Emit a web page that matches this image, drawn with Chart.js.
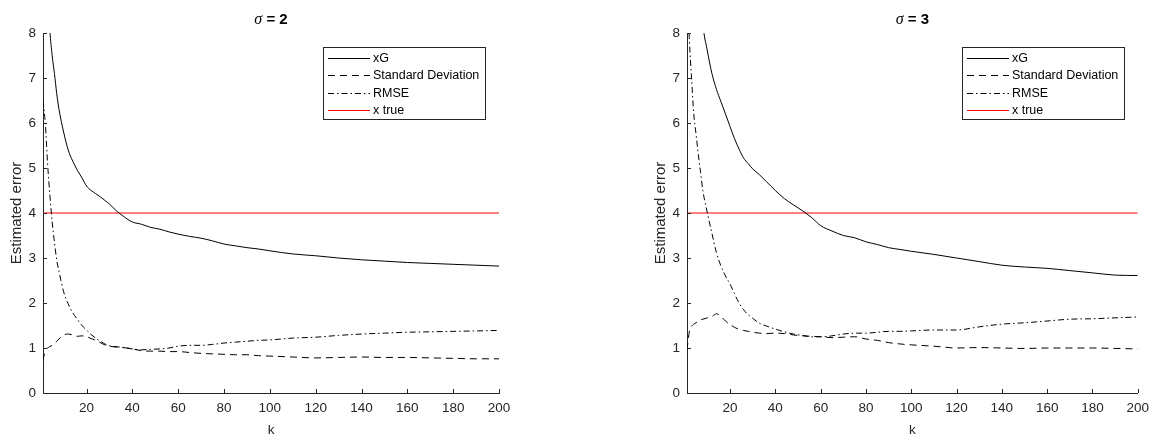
<!DOCTYPE html>
<html>
<head>
<meta charset="utf-8">
<script src="https://cdn.jsdelivr.net/npm/chart.js@4"></script>
<style>
  html, body { margin: 0; padding: 0; background: #fff; }
  #wrap { position: relative; width: 1156px; height: 434px; overflow: hidden; }
  canvas { position: absolute; top: 0; }
</style>
</head>
<body>
<div id="wrap">
  <canvas id="left" width="578" height="434" style="left:0"></canvas>
  <canvas id="right" width="578" height="434" style="left:578px"></canvas>
</div>
<script>
// iteration count k (same sample points for every series)
const k = [1, 2, 3, 4, 5, 6, 7, 8, 10, 12, 14, 16, 18, 20, 22, 24, 26, 28, 30, 33, 36, 40, 44, 48, 52, 56,
  60, 65, 70, 75, 80, 85, 90, 95, 100, 110, 120, 130, 140, 150, 160, 170, 180, 190, 200];

// sigma = 2
const xgS2 = [13.0, 10.6, 9.0, 8.05, 7.5, 7.1, 6.65, 6.3, 5.8, 5.4, 5.15, 4.95, 4.78, 4.6, 4.5, 4.43, 4.36, 4.28, 4.2, 4.05, 3.93, 3.8, 3.75, 3.68, 3.64, 3.58,
  3.53, 3.48, 3.44, 3.38, 3.31, 3.27, 3.23, 3.2, 3.16, 3.09, 3.05, 3.0, 2.96, 2.93, 2.9, 2.88, 2.86, 2.84, 2.82];
const sdS2 = [0.72, 0.95, 1.0, 1.03, 1.06, 1.1, 1.15, 1.2, 1.29, 1.31, 1.29, 1.26, 1.27, 1.25, 1.21, 1.17, 1.12, 1.07, 1.04, 1.02, 1.01, 0.98, 0.94, 0.93, 0.93, 0.92,
  0.92, 0.9, 0.88, 0.87, 0.86, 0.85, 0.85, 0.83, 0.82, 0.8, 0.78, 0.79, 0.8, 0.79, 0.79, 0.78, 0.77, 0.76, 0.76];
const rmseS2 = [6.5, 6.0, 5.1, 4.4, 3.8, 3.35, 2.95, 2.7, 2.25, 1.98, 1.78, 1.64, 1.5, 1.4, 1.3, 1.22, 1.15, 1.09, 1.05, 1.03, 1.01, 0.98, 0.96, 0.97, 0.98, 1.0,
  1.04, 1.06, 1.06, 1.08, 1.11, 1.13, 1.15, 1.17, 1.18, 1.22, 1.24, 1.28, 1.31, 1.33, 1.35, 1.36, 1.37, 1.38, 1.39];

// sigma = 3
const xgS3 = [24, 18, 14.5, 12.3, 10.8, 9.7, 8.9, 8.2, 7.6, 7.1, 6.75, 6.47, 6.2, 5.92, 5.65, 5.42, 5.22, 5.1, 4.98, 4.85, 4.7, 4.5, 4.32, 4.18, 4.05, 3.9,
  3.72, 3.6, 3.5, 3.45, 3.36, 3.3, 3.23, 3.19, 3.15, 3.08, 3.0, 2.92, 2.84, 2.8, 2.77, 2.72, 2.67, 2.62, 2.61];
const sdS3 = [0.96, 1.35, 1.48, 1.53, 1.56, 1.6, 1.63, 1.64, 1.67, 1.7, 1.76, 1.7, 1.6, 1.52, 1.46, 1.41, 1.39, 1.37, 1.35, 1.33, 1.32, 1.33, 1.32, 1.29, 1.27, 1.26,
  1.25, 1.23, 1.24, 1.25, 1.2, 1.17, 1.12, 1.09, 1.07, 1.04, 1.0, 1.01, 1.0, 0.99, 1.0, 1.0, 1.0, 0.99, 0.98];
const rmseS3 = [9.2, 7.9, 7.0, 6.2, 5.75, 5.3, 4.9, 4.5, 4.0, 3.55, 3.12, 2.82, 2.6, 2.42, 2.2, 2.0, 1.85, 1.74, 1.66, 1.55, 1.49, 1.42, 1.36, 1.31, 1.28, 1.25,
  1.25, 1.27, 1.31, 1.33, 1.33, 1.35, 1.37, 1.37, 1.38, 1.4, 1.4, 1.47, 1.53, 1.56, 1.6, 1.64, 1.65, 1.67, 1.69];

// true value line
const kEnds = [1, 200];
const xTrue = [4, 4];

const kTicks = [20, 40, 60, 80, 100, 120, 140, 160, 180, 200];
const yTicks = [0, 1, 2, 3, 4, 5, 6, 7, 8];
const seriesNames = ['xG', 'Standard Deviation', 'RMSE', 'x true'];

const FONT = '"Liberation Sans", Arial, Helvetica, sans-serif';
const SERIF = '"Liberation Serif", "Times New Roman", serif';
const AXIS = '#262626';
const RED = '#ff0000';

function pts(xs, ys) {
  return xs.map((x, i) => ({ x: x, y: ys[i] }));
}

// MATLAB-like extras: bold title with italic sigma, inward ticks, boxed legend
const matlabLook = {
  id: 'matlabLook',
  afterDraw(chart, args, opts) {
    const ctx = chart.ctx;
    const a = chart.chartArea;
    const xs = chart.scales.x, ys = chart.scales.y;
    ctx.save();

    // inward tick marks
    ctx.strokeStyle = AXIS;
    ctx.lineWidth = 1;
    ctx.beginPath();
    kTicks.forEach(v => {
      const px = Math.round(xs.getPixelForValue(v)) + 0.5;
      ctx.moveTo(px, a.bottom);
      ctx.lineTo(px, a.bottom - 4);
    });
    yTicks.forEach(v => {
      const py = Math.round(ys.getPixelForValue(v)) + 0.5;
      ctx.moveTo(a.left, py);
      ctx.lineTo(a.left + 4, py);
    });
    ctx.stroke();

    // title
    const cx = (a.left + a.right) / 2;
    ctx.fillStyle = '#000';
    ctx.textBaseline = 'middle';
    ctx.textAlign = 'left';
    const sig = '\u03C3';
    const rest = ' = ' + opts.sigma;
    ctx.font = 'italic 16px ' + SERIF;
    const w1 = ctx.measureText(sig).width;
    ctx.font = 'bold 15px ' + FONT;
    const w2 = ctx.measureText(rest).width;
    const x0 = cx - (w1 + w2) / 2;
    ctx.font = 'italic 16px ' + SERIF;
    ctx.fillText(sig, x0, 20);
    ctx.font = 'bold 15px ' + FONT;
    ctx.fillText(rest, x0 + w1, 20);

    // legend
    const bw = 162, bh = 72;
    const bx = Math.round(a.right - 14 - bw);
    const by = Math.round(a.top + 14);
    ctx.fillStyle = '#fff';
    ctx.fillRect(bx, by, bw, bh);
    ctx.strokeStyle = AXIS;
    ctx.lineWidth = 1;
    ctx.setLineDash([]);
    ctx.strokeRect(bx + 0.5, by + 0.5, bw, bh);
    ctx.font = '12.5px ' + FONT;
    ctx.textBaseline = 'middle';
    ctx.textAlign = 'left';
    opts.colors.forEach((color, i) => {
      const ds = chart.data.datasets[i];
      const ry = Math.round(by + 11 + i * 17.4);
      const dash = ds.borderDash || [];
      if (dash.length === 0) {
        ctx.fillStyle = color;
        ctx.fillRect(bx + 5, ry, 42, 1);
      } else {
        ctx.strokeStyle = color;
        ctx.setLineDash(dash);
        ctx.beginPath();
        ctx.moveTo(bx + 5, ry + 0.5);
        ctx.lineTo(bx + 47, ry + 0.5);
        ctx.stroke();
        ctx.setLineDash([]);
      }
      ctx.fillStyle = '#000';
      ctx.fillText(ds.label, bx + 50, ry + 0.5);
    });
    ctx.restore();
  }
};

function makeChart(id, sigma, xg, sd, rmse, padLeft, padRight) {
  const line = (label, data, color, dash) => ({
    label: label,
    data: data,
    borderColor: color,
    borderWidth: 1,
    borderDash: dash,
    pointRadius: 0,
    fill: false,
    cubicInterpolationMode: 'monotone'
  });

  return new Chart(document.getElementById(id).getContext('2d'), {
    type: 'line',
    data: {
      datasets: [
        line(seriesNames[0], pts(k, xg), '#000000', []),
        line(seriesNames[1], pts(k, sd), '#000000', [7, 5]),
        line(seriesNames[2], pts(k, rmse), '#000000', [6, 3, 1.5, 3]),
        line(seriesNames[3], pts(kEnds, xTrue), RED, [])
      ]
    },
    options: {
      responsive: false,
      animation: false,
      layout: { padding: { top: 33, left: padLeft, right: padRight, bottom: 0 } },
      plugins: {
        legend: { display: false },
        title: { display: false },
        tooltip: { enabled: false },
        matlabLook: { sigma: sigma, colors: ['#000000', '#000000', '#000000', RED] }
      },
      scales: {
        x: {
          type: 'linear',
          min: 1,
          max: 200,
          afterBuildTicks: s => { s.ticks = kTicks.map(v => ({ value: v })); },
          afterFit: s => { s.height = 41; },
          grid: { display: false, drawTicks: false },
          border: { display: true, color: AXIS, width: 1 },
          ticks: { color: AXIS, font: { family: FONT, size: 13.5 }, padding: 7, maxRotation: 0 },
          title: { display: true, text: 'k', color: AXIS, font: { family: FONT, size: 13.5, lineHeight: 0.6 }, padding: { top: 0, bottom: 0 } }
        },
        y: {
          min: 0,
          max: 8,
          afterBuildTicks: s => { s.ticks = yTicks.map(v => ({ value: v })); },
          afterFit: s => { s.width = 43; },
          grid: { display: false, drawTicks: false },
          border: { display: true, color: AXIS, width: 1 },
          ticks: { color: AXIS, font: { family: FONT, size: 13.5 }, padding: 7 },
          title: { display: true, text: 'Estimated error', color: AXIS, font: { family: FONT, size: 15 }, padding: { top: 8, bottom: 0 } }
        }
      }
    },
    plugins: [matlabLook]
  });
}

makeChart('left', 2, xgS2, sdS2, rmseS2, 0, 79);
makeChart('right', 3, xgS3, sdS3, rmseS3, 66, 13);
</script>
</body>
</html>
